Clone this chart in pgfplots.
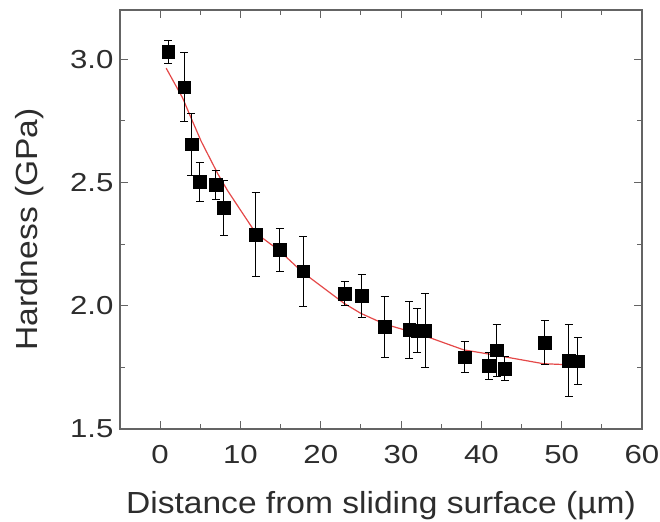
\documentclass[border=0pt]{standalone}
\usepackage{fontspec}
\setmainfont{Liberation Sans}[FakeStretch=1.1]
\newfontfamily\tickfont{Liberation Sans}[FakeStretch=1.2]
\usepackage{pgfplots}
\pgfplotsset{compat=1.18}
\definecolor{fitred}{RGB}{228,72,72}
\definecolor{axgray}{RGB}{100,100,100}
\definecolor{txtgray}{RGB}{45,45,45}
\begin{document}
\begin{tikzpicture}
\path[use as bounding box] (0,0) rectangle (660bp,522bp);
\begin{axis}[
  at={(120bp,93bp)}, anchor=south west,
  scale only axis, width=522bp, height=419bp,
  xmin=-5, xmax=60, ymin=1.5, ymax=3.2,
  xtick={0,10,...,60}, ytick={1.5,2.0,2.5,3.0},
  minor x tick num=1, minor y tick num=1,
  tick align=inside, major tick length=8bp, minor tick length=5bp,
  axis line style={axgray, line width=1.2bp},
  every tick/.style={axgray, line width=1bp},
  /pgf/number format/assume math mode=true,
  yticklabel style={/pgf/number format/fixed, /pgf/number format/fixed zerofill, /pgf/number format/precision=1},
  tick label style={font=\tickfont\fontsize{26bp}{28bp}\selectfont, text=txtgray},
  label style={font=\fontsize{30.5bp}{34bp}\selectfont, text=txtgray},
  xlabel={Distance from sliding surface (\textmu m)},
  ylabel={Hardness (GPa)},
  xlabel style={at={(axis description cs:0.5,0)}, anchor=base, yshift=-84bp},
  ylabel style={at={(axis description cs:-0.1724,0.476)}, anchor=center},
  xticklabel style={anchor=base, yshift=-34bp},
  yticklabel style={xshift=-3bp},
]
\addplot[fitred, line width=1.2bp] coordinates {
(0.75,2.964) (2.8,2.843) (3.85,2.762) (5.1,2.668) (7.2,2.534) (8.4,2.467)
(11.9,2.295) (14.8,2.225) (17.7,2.137) (22.9,2.010) (25.0,1.969) (28.0,1.925)
(31.2,1.895) (33.7,1.869) (37.8,1.821) (41.5,1.801) (47.7,1.765) (50.6,1.761) (52.3,1.760)
};
\addplot[black, only marks, mark=square*, mark size=6.3bp,
  error bars/.cd, y dir=both, y explicit,
  error bar style={black, line width=0.9bp},
  error mark options={rotate=90, mark size=4bp, line width=0.9bp, black}]
coordinates {
(1.0,3.030) +- (0,0.045)
(3.0,2.886) +- (0,0.140)
(3.9,2.655) +- (0,0.125)
(4.9,2.503) +- (0,0.080)
(6.9,2.490) +- (0,0.060)
(7.9,2.397) +- (0,0.110)
(11.9,2.289) +- (0,0.170)
(14.9,2.227) +- (0,0.087)
(17.8,2.140) +- (0,0.143)
(23.0,2.050) +- (0,0.050)
(25.1,2.040) +- (0,0.086)
(27.95,1.915) +- (0,0.123)
(31.0,1.902) +- (0,0.115)
(32.0,1.900) +- (0,0.090)
(33.0,1.900) +- (0,0.150)
(37.9,1.792) +- (0,0.063)
(40.9,1.757) +- (0,0.055)
(41.9,1.820) +- (0,0.105)
(42.9,1.745) +- (0,0.050)
(47.9,1.851) +- (0,0.090)
(50.9,1.777) +- (0,0.146)
(52.0,1.775) +- (0,0.095)
};
\end{axis}
\end{tikzpicture}
\end{document}
